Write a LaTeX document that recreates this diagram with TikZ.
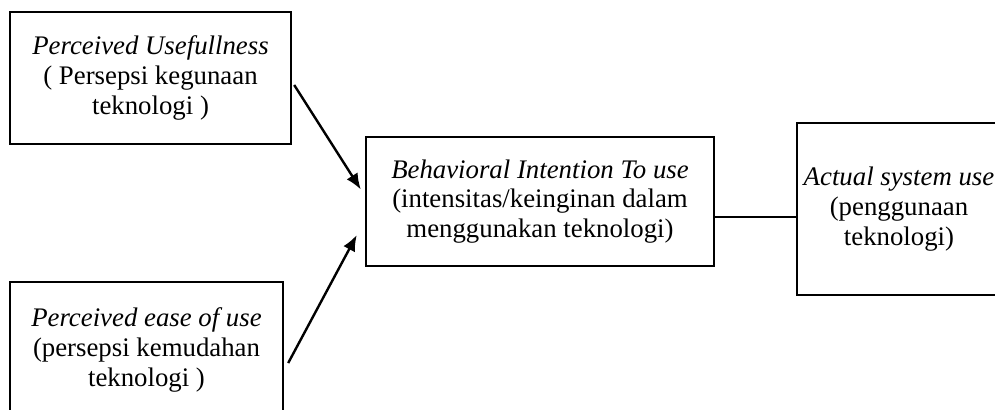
\documentclass[tikz,border=0pt]{standalone}
\usepackage{fontspec}
\setmainfont{Liberation Serif}
\usetikzlibrary{arrows.meta}
\begin{document}
\begin{tikzpicture}[x=0.5pt,y=-0.5pt,
    kotak/.style={draw, line width=1.2pt, align=center, inner sep=0pt,
        font=\fontsize{13.4}{14.8}\selectfont},
    panah/.style={-{Latex[length=8pt,width=6.5pt]}, line width=1.2pt}]

    \useasboundingbox (0,0) rectangle (995,410);

    \node[kotak, minimum width=140.5pt, minimum height=66pt] (pu) at (150.5,78)
        {\textit{Perceived Usefullness}\\( Persepsi kegunaan\\teknologi )};
    \node[kotak, minimum width=136.5pt, minimum height=68pt] (peou) at (146.5,350)
        {\textit{Perceived ease of use}\\(persepsi kemudahan\\teknologi )};

    \node[kotak, minimum width=174pt, minimum height=64.5pt] (bi) at (540,201.5)
        {\textit{Behavioral Intention To use}\\(intensitas/keinginan dalam\\menggunakan teknologi)};
    \node[kotak, minimum width=102pt, minimum height=86pt] (asu) at (899,209)
        {\textit{Actual system use}\\(penggunaan\\teknologi)};

    \draw[panah] ([shift={(2,7)}]pu.east) -- ([shift={(-4,-12)}]bi.west);
    \draw[panah] ([shift={(4,13)}]peou.east) -- ([shift={(-8,33.5)}]bi.west);
    \draw[line width=.6pt] ([shift={(0,15.5)}]bi.east) -- ([shift={(0,15.5)}]bi.east -| asu.west);

\end{tikzpicture}
\end{document}
